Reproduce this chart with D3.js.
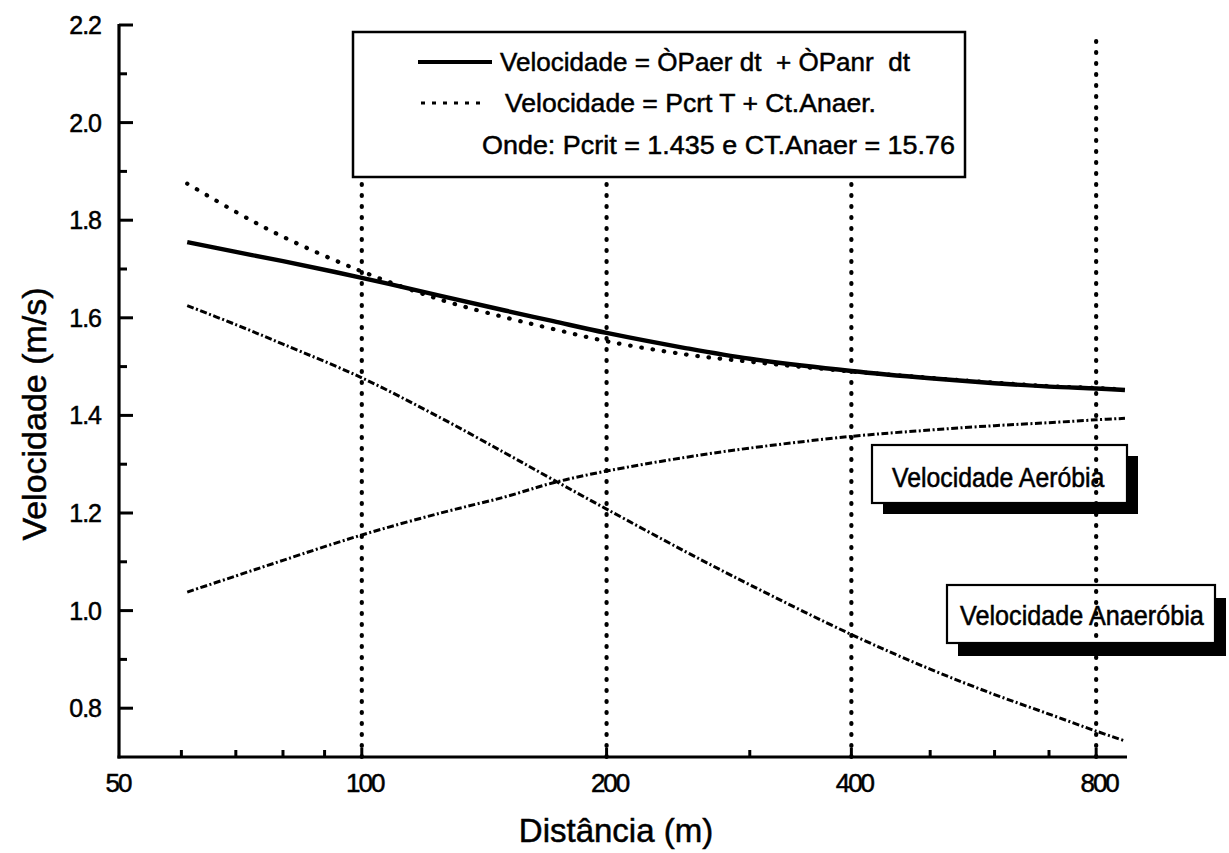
<!DOCTYPE html>
<html>
<head>
<meta charset="utf-8">
<script src="https://cdn.jsdelivr.net/npm/d3@7"></script>
<style>
  html, body { margin: 0; padding: 0; background: #fff; }
  svg { display: block; }
  text { font-family: "Liberation Sans", Arial, sans-serif; fill: #000; stroke: #000; stroke-width: 0.5px; }
</style>
</head>
<body>
<svg id="chart" width="1229" height="853"></svg>
<script>
// ---- data ----
const distances   = [61, 70, 80, 100, 125, 150, 172, 200, 250, 300, 400, 500, 600, 700, 800, 868];
const velTotal    = [1.755, 1.735, 1.716, 1.682, 1.645, 1.615, 1.593, 1.569, 1.538, 1.516, 1.491, 1.476, 1.466, 1.459, 1.455, 1.452];
const velCritical = [1.875, 1.817, 1.766, 1.695, 1.637, 1.601, 1.577, 1.552, 1.525, 1.510, 1.490, 1.477, 1.467, 1.460, 1.456, 1.453];
const velAnaerobic= [1.625, 1.586, 1.546, 1.477, 1.395, 1.323, 1.268, 1.208, 1.121, 1.053, 0.951, 0.880, 0.828, 0.788, 0.753, 0.733];
const velAerobic  = [1.038, 1.071, 1.103, 1.155, 1.200, 1.233, 1.262, 1.286, 1.314, 1.333, 1.357, 1.370, 1.379, 1.385, 1.391, 1.394];
const xTickLabels = [50, 100, 200, 400, 800];
const xMinorTicks = [60, 70, 80, 90, 300, 500, 600, 700];
const xGridLines  = [100, 200, 400, 800];
const yTickLabels = [0.8, 1.0, 1.2, 1.4, 1.6, 1.8, 2.0, 2.2];
const yMinorTicks = [0.9, 1.1, 1.3, 1.5, 1.7, 1.9, 2.1];
const legendLines = ["Velocidade = ÒPaer dt  + ÒPanr  dt", "Velocidade = Pcrt T + Ct.Anaer.", "Onde: Pcrit = 1.435 e CT.Anaer = 15.76"];
const labelAerobic = "Velocidade Aeróbia";
const labelAnaerobic = "Velocidade Anaeróbia";
const xTitle = "Distância (m)";
const yTitle = "Velocidade (m/s)";

// ---- scales ----
const svg = d3.select("#chart");
const x = d3.scaleLog().domain([50, 873]).range([117, 1127]);
const y = d3.scaleLinear().domain([0.7, 2.2]).range([757, 25]);
const axisX0 = 119;

const line = vals => d3.line()
  .x((d, i) => x(distances[i]))
  .y(d => y(d))
  .curve(d3.curveCatmullRom.alpha(0.5))(vals);

// ---- curves ----
const g = svg.append("g");
g.append("path").attr("d", line(velAerobic)).attr("fill", "none")
  .attr("stroke", "#000").attr("stroke-width", 3).attr("stroke-dasharray", "7 2.5 2 2.5");
g.append("path").attr("d", line(velAnaerobic)).attr("fill", "none")
  .attr("stroke", "#000").attr("stroke-width", 3).attr("stroke-dasharray", "7 2.5 2 2.5");
g.append("path").attr("d", line(velCritical)).attr("fill", "none")
  .attr("stroke", "#000").attr("stroke-width", 4.2).attr("stroke-linecap", "round")
  .attr("stroke-dasharray", "0.5 10.8");
g.append("path").attr("d", line(velTotal)).attr("fill", "none")
  .attr("stroke", "#000").attr("stroke-width", 4.4);

// ---- annotation boxes ----
function labelBox(bx, by, bw, bh, sx, sy, txt, tx, fs, tb) {
  svg.append("rect").attr("x", bx + sx).attr("y", by + sy).attr("width", bw).attr("height", bh).attr("fill", "#000");
  svg.append("rect").attr("x", bx).attr("y", by).attr("width", bw).attr("height", bh)
    .attr("fill", "#fff").attr("stroke", "#000").attr("stroke-width", 2.2);
  svg.append("text").attr("transform", `translate(${tx},${tb}) scale(1,1.12)`)
    .attr("font-size", fs).text(txt);
}
labelBox(872, 445, 255, 58, 11, 11, labelAerobic, 892, 24.8, 487);
labelBox(947, 585, 268, 58, 11, 13, labelAnaerobic, 960, 25.2, 625);

// ---- vertical dotted lines ----
svg.append("g").selectAll("line").data(xGridLines).join("line")
  .attr("x1", d => x(d)).attr("x2", d => x(d))
  .attr("y1", y(0.7)).attr("y2", y(2.187))
  .attr("stroke", "#000").attr("stroke-width", 4.2).attr("stroke-linecap", "round")
  .attr("stroke-dasharray", "1 10");

// ---- legend ----
const lg = svg.append("g");
lg.append("rect").attr("x", 353).attr("y", 32).attr("width", 612).attr("height", 145)
  .attr("fill", "#fff").attr("stroke", "#000").attr("stroke-width", 2.5);
lg.append("line").attr("x1", 418).attr("x2", 492).attr("y1", 62).attr("y2", 62)
  .attr("stroke", "#000").attr("stroke-width", 4);
lg.append("line").attr("x1", 421).attr("x2", 487).attr("y1", 103).attr("y2", 103)
  .attr("stroke", "#000").attr("stroke-width", 3).attr("stroke-dasharray", "4 7");
const legendPos = [[500, 71, 410], [505, 112, 371], [482, 154, 473]];
lg.selectAll("text.leg").data(legendLines).join("text").attr("class", "leg")
  .attr("x", (d, i) => legendPos[i][0]).attr("y", (d, i) => legendPos[i][1])
  .attr("textLength", (d, i) => legendPos[i][2]).attr("lengthAdjust", "spacingAndGlyphs")
  .attr("font-size", 26).style("white-space", "pre").text(d => d);

// ---- axes ----
const ax = svg.append("g");
ax.append("line").attr("x1", axisX0).attr("x2", axisX0).attr("y1", y(2.2) - 1).attr("y2", y(0.7) + 1.5)
  .attr("stroke", "#000").attr("stroke-width", 3.2);
ax.append("line").attr("x1", axisX0 - 1.5).attr("x2", x(873)).attr("y1", y(0.7)).attr("y2", y(0.7))
  .attr("stroke", "#000").attr("stroke-width", 3.2);

ax.selectAll("line.ymaj").data(yTickLabels).join("line").attr("class", "ymaj")
  .attr("x1", axisX0).attr("x2", axisX0 + 14).attr("y1", d => y(d)).attr("y2", d => y(d))
  .attr("stroke", "#000").attr("stroke-width", 3);
ax.selectAll("line.ymin").data(yMinorTicks).join("line").attr("class", "ymin")
  .attr("x1", axisX0).attr("x2", axisX0 + 8).attr("y1", d => y(d)).attr("y2", d => y(d))
  .attr("stroke", "#000").attr("stroke-width", 3);
ax.selectAll("text.ylab").data(yTickLabels).join("text").attr("class", "ylab")
  .attr("x", 101).attr("y", d => y(d) + 9).attr("text-anchor", "end")
  .attr("font-size", 25).style("letter-spacing", "-1px").text(d => d.toFixed(1));

ax.selectAll("line.xmin").data(xMinorTicks).join("line").attr("class", "xmin")
  .attr("x1", d => x(d)).attr("x2", d => x(d)).attr("y1", y(0.7)).attr("y2", y(0.7) - 7)
  .attr("stroke", "#000").attr("stroke-width", 3);
ax.selectAll("line.xmaj").data(xGridLines).join("line").attr("class", "xmaj")
  .attr("x1", d => x(d)).attr("x2", d => x(d)).attr("y1", y(0.7)).attr("y2", y(0.7) - 9)
  .attr("stroke", "#000").attr("stroke-width", 3);
ax.selectAll("text.xlab").data(xTickLabels).join("text").attr("class", "xlab")
  .attr("x", d => x(d) + (d === 50 ? 1 : 3)).attr("y", 792).attr("text-anchor", "middle")
  .attr("font-size", 26).style("letter-spacing", "-2px").text(d => d);

svg.append("text").attr("x", 616).attr("y", 842).attr("text-anchor", "middle")
  .attr("font-size", 33).text(xTitle);
svg.append("text").attr("transform", "translate(46,414) rotate(-90)").attr("text-anchor", "middle")
  .attr("font-size", 34).text(yTitle);
</script>
</body>
</html>
